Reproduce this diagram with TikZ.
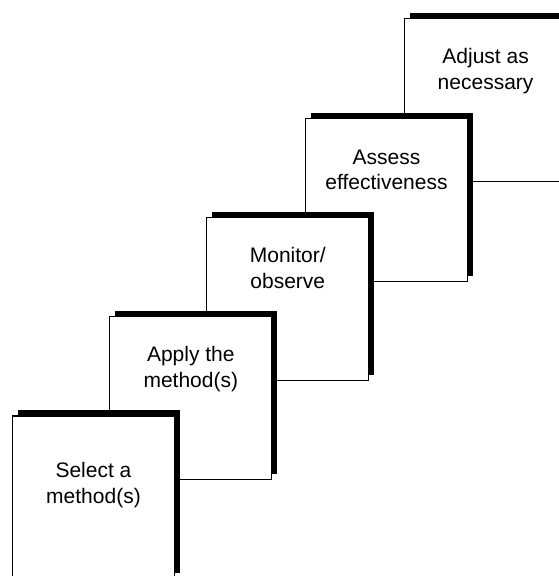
\documentclass[tikz,border=0pt]{standalone}
\usepackage{fontspec}
\setmainfont{Liberation Sans}
\usetikzlibrary{shadows}

\tikzset{
  stepbox/.style={
    rectangle, draw=black, line width=1.2pt, fill=white,
    minimum width=162pt, minimum height=163pt,
    inner sep=0pt, outer sep=0pt, anchor=north west,
    general shadow={fill=black, shadow xshift=5.5pt, shadow yshift=5.5pt}
  },
  % multi-line labels: the base anchor sits on the last line
  steplabel/.style={
    align=center, inner sep=0pt, anchor=base,
    font=\fontsize{21}{25.7}\selectfont
  }
}

\begin{document}
\begin{tikzpicture}[x=1pt, y=1pt]
  % the page is fixed; the top and bottom steps run past its edges
  \useasboundingbox (0,0) rectangle (558,576);

  % staircase of steps, drawn from the top step down so each lower step sits in front
  \node[stepbox, minimum width=200pt] (adjust) at (404.6, 557.6) {};
  \node[steplabel] (adjustT) at ([xshift=81pt, yshift=-70.7pt]adjust.north west) {Adjust as\\necessary};

  \node[stepbox] (assess)  at (305.5, 457.7) {};
  \node[steplabel] (assessT) at ([yshift=-71.7pt]assess.north) {Assess\\effectiveness};

  \node[stepbox] (monitor) at (206.8, 358.5) {};
  \node[steplabel] (monitorT) at ([yshift=-70.7pt]monitor.north) {Monitor/\\observe};

  \node[stepbox] (apply)   at (109.8, 259.3) {};
  \node[steplabel] (applyT) at ([yshift=-70.7pt]apply.north) {Apply the\\method(s)};

  \node[stepbox] (select)  at (12.5, 160) {};
  \node[steplabel] (selectT) at ([yshift=-87.5pt]select.north) {Select a\\method(s)};
\end{tikzpicture}
\end{document}
